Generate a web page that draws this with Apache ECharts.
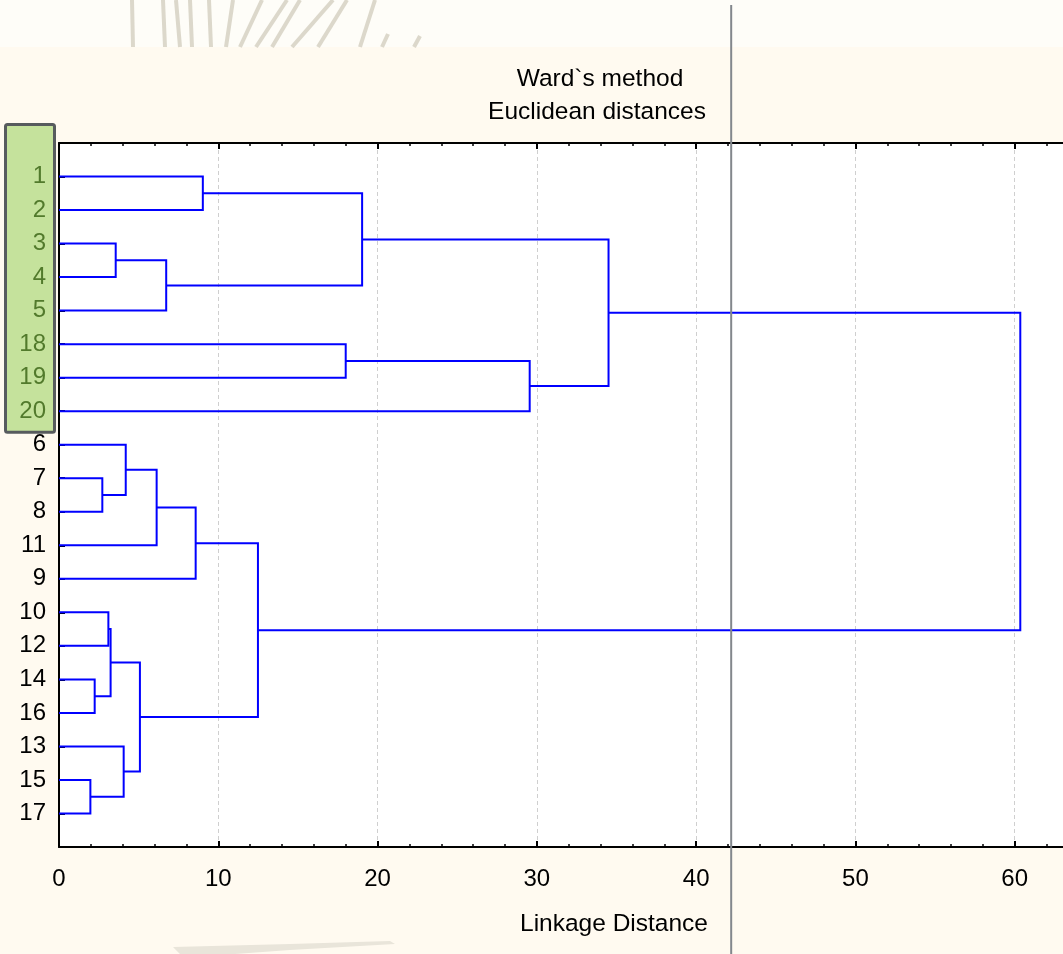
<!DOCTYPE html>
<html><head><meta charset="utf-8">
<script src="https://cdn.jsdelivr.net/npm/echarts@6/dist/echarts.min.js"></script>
<style>html,body{margin:0;padding:0;background:#fffaf0;overflow:hidden}#c{width:1180px;height:954px}</style>
</head><body><div id="c"></div>
<script>
// Leaf order along the vertical axis (top to bottom)
const leafOrder = ['1','2','3','4','5','18','19','20','6','7','8','11','9','10','12','14','16','13','15','17'];
const highlightedLeaves = ['1','2','3','4','5','18','19','20'];
// Agglomeration steps: cluster cN is created by merging mergeA[N] and mergeB[N] at mergeHeight[N]
const mergeA = ['1','3','c1','c0','18','c4','c3','7','6','c8','c9','10','14','c11','15','13','c13','c10','c6'];
const mergeB = ['2','4','5','c2','19','20','c5','8','c7','11','9','12','16','c12','17','c14','c15','c16','c17'];
const mergeHeight = [9.03,3.56,6.73,19.03,18.0,29.55,34.5,2.72,4.19,6.13,8.58,3.10,2.24,3.24,1.97,4.06,5.08,12.49,60.35];
const xTicks = [0,10,20,30,40,50,60];
const cutDistance = [42.2];
const titleLines = ['Ward`s method','Euclidean distances'];
const xAxisTitle = 'Linkage Distance';

const FONT = "'Liberation Sans', Arial, sans-serif";
const pos = {}, hgt = {};
leafOrder.forEach((l,i)=>{ pos[l]=i+1; hgt[l]=0; });
const linkData = mergeA.map((a,i)=>{
  const b = mergeB[i], H = mergeHeight[i];
  const id = 'c'+i;
  pos[id] = (pos[a]+pos[b])/2; hgt[id] = H;
  return [hgt[a], pos[a], H, pos[b], hgt[b]];
});

const chart = echarts.init(document.getElementById('c'), null, {renderer:'canvas'});
const xMin = 0, xMax = 70;
const tickCommon = {inside:true, length:6, lineStyle:{color:'#000', width:2}};
const minorCommon = {show:true, splitNumber:5, length:3, lineStyle:{color:'#000', width:1.5}};
chart.setOption({
  backgroundColor:'#fffaf0',
  animation:false,
  grid:{left:59, top:143, width:1115, height:704, show:true, backgroundColor:'#ffffff', borderWidth:0},
  xAxis:[{
    type:'value', min:xMin, max:xMax, interval:10, position:'bottom',
    axisLine:{show:true, onZero:false, lineStyle:{color:'#000', width:2}},
    axisTick:tickCommon, minorTick:minorCommon,
    axisLabel:{margin:20, fontSize:24, color:'#000', fontFamily:FONT,
      formatter:v=> xTicks.indexOf(v)>=0 ? String(v) : ''},
    splitLine:{show:true, lineStyle:{type:[4,3], color:'#cfcfcf', width:1}}
  },{
    type:'value', min:xMin, max:xMax, interval:10, position:'top',
    axisLine:{show:true, onZero:false, lineStyle:{color:'#000', width:2}},
    axisTick:tickCommon, minorTick:minorCommon,
    axisLabel:{show:false}, splitLine:{show:false}
  }],
  yAxis:{
    type:'value', min:0, max:leafOrder.length+1, interval:1, inverse:true,
    axisLine:{show:true, onZero:false, lineStyle:{color:'#000', width:2}},
    axisTick:{inside:true, length:6, lineStyle:{color:'#000', width:2}},
    splitLine:{show:false},
    axisLabel:{margin:13, fontSize:24, fontFamily:FONT, showMinLabel:true, showMaxLabel:true,
      formatter:v=>{
        const l = leafOrder[v-1];
        if (!l) return '';
        return (highlightedLeaves.indexOf(l)>=0 ? '{g|' : '{k|') + l + '}';
      },
      rich:{g:{color:'#527a2c', fontSize:24, fontFamily:FONT}, k:{color:'#000', fontSize:24, fontFamily:FONT}}
    }
  },
  series:[{
    type:'custom',
    xAxisIndex:0,
    data:linkData,
    dimensions:['h1','p1','H','p2','h2'],
    encode:{x:[0,2,4], y:[1,3]},
    z:5,
    renderItem:(params, api)=>{
      const p = [
        api.coord([api.value(0), api.value(1)]),
        api.coord([api.value(2), api.value(1)]),
        api.coord([api.value(2), api.value(3)]),
        api.coord([api.value(4), api.value(3)])
      ];
      return {type:'polyline', shape:{points:p}, style:{stroke:'#0000ff', lineWidth:2, fill:null}};
    }
  }]
});

const cutX = chart.convertToPixel({xAxisIndex:0}, cutDistance[0]);
const yTop = chart.convertToPixel({yAxisIndex:0}, 0);
const spacing = chart.convertToPixel({yAxisIndex:0}, 1) - yTop;
const boxTop = chart.convertToPixel({yAxisIndex:0}, 1) - spacing*1.55;
const boxBottom = chart.convertToPixel({yAxisIndex:0}, highlightedLeaves.length) + spacing*0.63;

const wm = [[132,0,133,47],[163,0,165,47],[176,0,180,47],[190,0,192,47],[209,0,211,47],[233,0,226,47],
  [262,0,240,47],[287,0,256,47],[300,0,272,47],[333,0,292,47],[347,0,318,47],[375,0,360,47],[388,34,382,47],[420,36,414,47]];
const graphics = [
  {type:'rect', z:-10, silent:true, shape:{x:0,y:0,width:1180,height:47}, style:{fill:'#fefdf8'}}
];
wm.forEach(s=>graphics.push({type:'line', z:-9, silent:true, shape:{x1:s[0],y1:s[1],x2:s[2],y2:s[3]}, style:{stroke:'#dcd8cb', lineWidth:4}}));
graphics.push({type:'polygon', z:-9, silent:true, shape:{points:[[173,947],[290,944],[390,941],[395,944],[290,950],[235,954],[180,954]]}, style:{fill:'#e9e5da'}});
graphics.push({type:'rect', z:-5, silent:true, shape:{x:5.5,y:boxTop,width:49,height:boxBottom-boxTop,r:2}, style:{fill:'#c5e29c', stroke:'#575b5e', lineWidth:3}});
graphics.push({type:'text', z:20, x:600, y:79, style:{text:titleLines[0], font:"24.5px "+FONT, fill:'#000', align:'center', verticalAlign:'middle'}});
graphics.push({type:'text', z:20, x:597, y:112, style:{text:titleLines[1], font:"24.5px "+FONT, fill:'#000', align:'center', verticalAlign:'middle'}});
graphics.push({type:'text', z:20, x:614, y:924, style:{text:xAxisTitle, font:"24.5px "+FONT, fill:'#000', align:'center', verticalAlign:'middle'}});
graphics.push({type:'line', z:30, silent:true, shape:{x1:cutX,y1:5,x2:cutX,y2:954}, style:{stroke:'#83878c', lineWidth:2}});
chart.setOption({graphic:graphics});
</script>
</body></html>
